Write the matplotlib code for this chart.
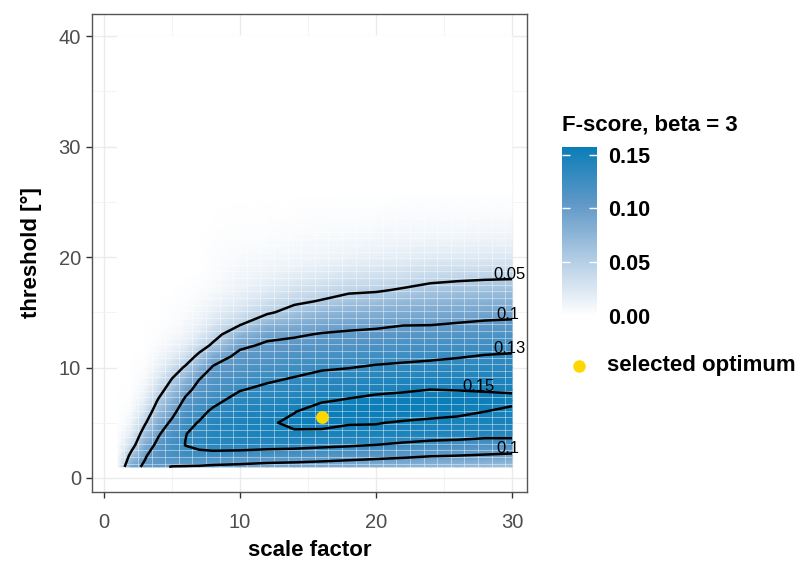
import numpy as np
import matplotlib.pyplot as plt
from matplotlib.colors import LinearSegmentedColormap
from matplotlib.lines import Line2D

plt.rcParams['font.family'] = ['Liberation Sans', 'DejaVu Sans']

# grid nodes
scale_factor = [1, 2, 3, 4, 5, 6, 7, 8, 10, 12, 14, 16, 18, 20, 22, 24, 26, 28, 30]
threshold = [1, 2, 3, 4, 5, 6, 7, 8, 9, 10, 11, 12, 13, 14, 15, 16, 17, 18, 19, 20,
             22, 24, 26, 40]

# F-score (beta = 3), one list per scale factor, along the thresholds above
fscore_by_scale = [
    [0.004, 0.003, 0.002, 0.001, 0, 0, 0, 0, 0, 0, 0, 0, 0, 0, 0, 0, 0, 0, 0, 0, 0, 0, 0, 0],
    [0.093, 0.060, 0.035, 0.020, 0.011, 0.006, 0.003, 0.001, 0, 0, 0, 0, 0, 0, 0, 0, 0, 0, 0, 0, 0, 0, 0, 0],
    [0.103, 0.098, 0.084, 0.065, 0.046, 0.030, 0.018, 0.010, 0.005, 0.003, 0.001, 0, 0, 0, 0, 0, 0, 0, 0, 0, 0, 0, 0, 0],
    [0.104, 0.111, 0.107, 0.097, 0.085, 0.068, 0.053, 0.037, 0.024, 0.014, 0.008, 0.004, 0.002, 0.001, 0, 0, 0, 0, 0, 0, 0, 0, 0, 0],
    [0.099, 0.118, 0.121, 0.117, 0.105, 0.092, 0.080, 0.066, 0.050, 0.033, 0.019, 0.010, 0.006, 0.003, 0.002, 0.001, 0, 0, 0, 0, 0, 0, 0, 0],
    [0.098, 0.124, 0.1305, 0.1295, 0.125, 0.117, 0.105, 0.092, 0.075, 0.054, 0.033, 0.019, 0.011, 0.007, 0.004, 0.002, 0.001, 0, 0, 0, 0, 0, 0, 0],
    [0.097, 0.125, 0.134, 0.135, 0.131, 0.125, 0.117, 0.109, 0.099, 0.082, 0.058, 0.035, 0.021, 0.013, 0.008, 0.005, 0.003, 0.001, 0, 0, 0, 0, 0, 0],
    [0.095, 0.124, 0.137, 0.140, 0.139, 0.133, 0.125, 0.117, 0.110, 0.102, 0.088, 0.055, 0.037, 0.025, 0.016, 0.010, 0.006, 0.004, 0.003, 0.002, 0.001, 0, 0, 0],
    [0.093, 0.121, 0.139, 0.144, 0.145, 0.143, 0.137, 0.129, 0.121, 0.112, 0.106, 0.096, 0.075, 0.045, 0.030, 0.020, 0.014, 0.010, 0.007, 0.005, 0.002, 0.001, 0, 0],
    [0.090, 0.118, 0.138, 0.146, 0.148, 0.145, 0.139, 0.134, 0.127, 0.119, 0.111, 0.103, 0.095, 0.075, 0.045, 0.032, 0.022, 0.015, 0.010, 0.007, 0.003, 0.001, 0, 0],
    [0.088, 0.117, 0.137, 0.148, 0.153, 0.1495, 0.143, 0.137, 0.131, 0.124, 0.116, 0.107, 0.097, 0.082, 0.062, 0.044, 0.031, 0.021, 0.014, 0.009, 0.004, 0.001, 0, 0],
    [0.086, 0.114, 0.135, 0.147, 0.154, 0.157, 0.1485, 0.141, 0.135, 0.128, 0.119, 0.111, 0.1015, 0.089, 0.073, 0.052, 0.037, 0.026, 0.018, 0.011, 0.005, 0.002, 0, 0],
    [0.083, 0.111, 0.133, 0.148, 0.1505, 0.157, 0.1515, 0.144, 0.137, 0.1295, 0.122, 0.113, 0.104, 0.092, 0.078, 0.061, 0.045, 0.032, 0.022, 0.014, 0.006, 0.002, 0, 0],
    [0.080, 0.108, 0.130, 0.147, 0.1505, 0.156, 0.155, 0.146, 0.139, 0.132, 0.124, 0.116, 0.106, 0.094, 0.081, 0.065, 0.047, 0.035, 0.025, 0.016, 0.007, 0.003, 0, 0],
    [0.077, 0.105, 0.126, 0.145, 0.149, 0.155, 0.156, 0.148, 0.141, 0.134, 0.125, 0.118, 0.108, 0.098, 0.085, 0.071, 0.053, 0.038, 0.027, 0.018, 0.008, 0.004, 0, 0],
    [0.074, 0.101, 0.122, 0.143, 0.147, 0.155, 0.157, 0.150, 0.143, 0.135, 0.127, 0.120, 0.110, 0.098, 0.087, 0.074, 0.060, 0.044, 0.031, 0.021, 0.009, 0.004, 0, 0],
    [0.071, 0.0995, 0.120, 0.142, 0.146, 0.153, 0.156, 0.1495, 0.143, 0.136, 0.129, 0.122, 0.112, 0.1005, 0.089, 0.077, 0.063, 0.047, 0.033, 0.022, 0.009, 0.004, 0, 0],
    [0.067, 0.098, 0.115, 0.140, 0.147, 0.150, 0.154, 0.149, 0.143, 0.137, 0.131, 0.124, 0.114, 0.103, 0.091, 0.079, 0.065, 0.049, 0.034, 0.023, 0.010, 0.004, 0, 0],
    [0.063, 0.095, 0.118, 0.138, 0.146, 0.148, 0.152, 0.149, 0.142, 0.136, 0.132, 0.125, 0.115, 0.104, 0.093, 0.080, 0.066, 0.050, 0.035, 0.024, 0.010, 0.004, 0, 0],
]

contour_levels = [0.05, 0.1, 0.13, 0.15]
optimum_scale = 16.0
optimum_threshold = 5.5

Z = np.array(fscore_by_scale).T
X, Y = np.meshgrid(scale_factor, threshold)

cmap = LinearSegmentedColormap.from_list(
    'fscore', [(0, '#FFFFFF'), (0.33, '#B3CDE4'), (0.66, '#6199C8'), (1, '#0A7DB8')])

fig = plt.figure(figsize=(7.98, 5.64), dpi=100)
ax = fig.add_axes([92 / 798, 72 / 564, 435 / 798, 478 / 564])

# grid like theme_bw
ax.set_axisbelow(True)
ax.set_xticks([0, 10, 20, 30])
ax.set_yticks([0, 10, 20, 30, 40])
ax.set_xticks([5, 15, 25], minor=True)
ax.set_yticks([5, 15, 25, 35], minor=True)
ax.grid(True, which='major', color='#EBEBEB', lw=1.0)
ax.grid(True, which='minor', color='#F2F2F2', lw=0.6)

mesh = ax.pcolormesh(X, Y, Z, shading='gouraud', cmap=cmap, vmin=0, vmax=Z.max(), zorder=1)

# tile seams
ax.vlines(np.arange(1.5, 30, 1.0), 1, 40, color='white', lw=0.6, alpha=0.5, zorder=1.5)
ax.hlines(np.arange(1.3, 40, 0.6), 1, 30, color='white', lw=0.6, alpha=0.5, zorder=1.5)

cs = ax.contour(X, Y, Z, levels=contour_levels, colors='black', linewidths=1.8, zorder=3)

# labels near the right end of each contour line
label_x = {0.05: 29.8, 0.1: 29.7, 0.13: 29.8, 0.15: 27.5}
for lev, path in zip(cs.levels, cs.get_paths()):
    lx = label_x[round(float(lev), 2)]
    for seg in path.to_polygons(closed_only=False):
        xs, ys = seg[:, 0], seg[:, 1]
        hits = []
        for i in range(len(xs) - 1):
            if (xs[i] - lx) * (xs[i + 1] - lx) <= 0 and xs[i] != xs[i + 1]:
                t = (lx - xs[i]) / (xs[i + 1] - xs[i])
                hits.append(ys[i] + t * (ys[i + 1] - ys[i]))
        if hits:
            ax.annotate(f'{lev:g}', (lx, max(hits)), xytext=(0, 3.5), textcoords='offset points',
                        ha='center', va='center', fontsize=12, color='black', zorder=4)

ax.scatter([optimum_scale], [optimum_threshold], s=85, color='#FFD700', zorder=5, linewidths=0)

ax.set_xlim(-0.88, 31.1)
ax.set_ylim(-1.27, 42.0)

for sp in ax.spines.values():
    sp.set_color('#555555')
    sp.set_linewidth(1.0)
ax.tick_params(which='major', length=4, width=1, color='#333333', labelcolor='#4D4D4D', labelsize=14.5)
ax.tick_params(axis='x', pad=11)
ax.tick_params(axis='y', pad=4)
ax.tick_params(which='minor', length=0)

ax.set_xlabel('scale factor', fontsize=16, fontweight='bold')
ax.set_ylabel('threshold [°]', fontsize=16, fontweight='bold')
ax.xaxis.set_label_coords(0.5, -0.1)
ax.yaxis.set_label_coords(-0.114, 0.5)

# colourbar legend
cax = fig.add_axes([562 / 798, 1 - 316 / 564, 35 / 798, (316 - 147) / 564])
cb = fig.colorbar(mesh, cax=cax, ticks=[0, 0.05, 0.10, 0.15])
cb.set_ticklabels(['0.00', '0.05', '0.10', '0.15'])
cb.outline.set_visible(False)
cax.yaxis.set_ticks_position('both')
cax.tick_params(direction='in', length=6, width=1, color='white', labelcolor='black',
                labelsize=15.5, pad=8, labelleft=False, labelright=True)
for t in cax.get_yticklabels():
    t.set_fontweight('bold')

fig.text(562 / 798, 1 - 125 / 564, 'F-score, beta = 3', fontsize=16, fontweight='bold',
         ha='left', va='center')

# point legend
fig.add_artist(Line2D([579 / 798], [1 - 366 / 564], marker='o', ls='none', color='#FFD700',
                      markersize=9, markeredgewidth=0, transform=fig.transFigure))
fig.text(607 / 798, 1 - 366 / 564, 'selected optimum', fontsize=16, fontweight='bold',
         ha='left', va='center')

fig.savefig('out.png', dpi=100, facecolor='white')
